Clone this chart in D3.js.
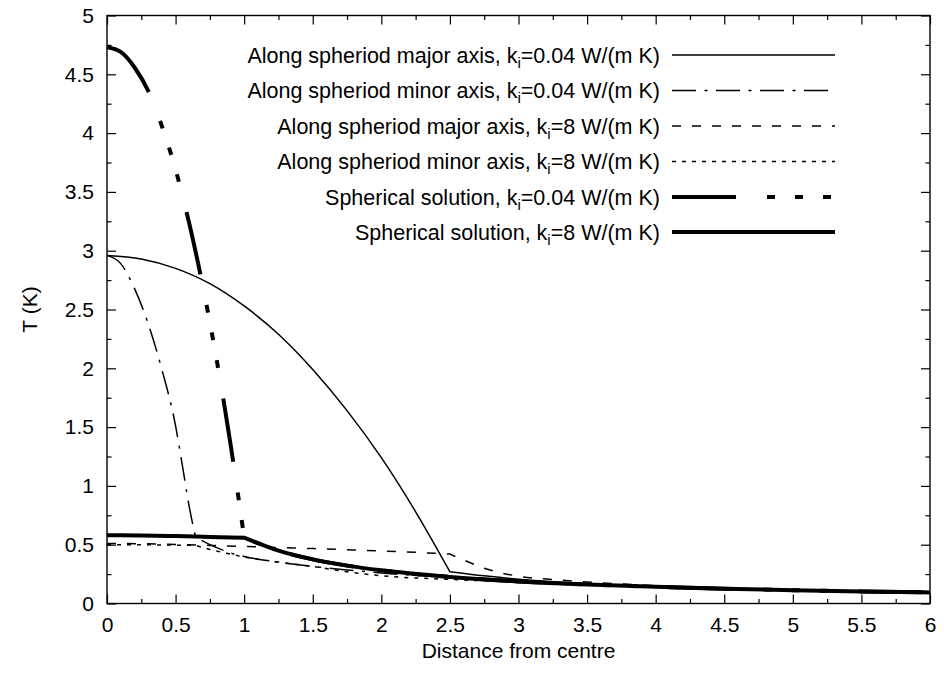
<!DOCTYPE html>
<html>
<head>
<meta charset="utf-8">
<script src="https://cdnjs.cloudflare.com/ajax/libs/d3/7.8.5/d3.min.js"></script>
<style>
  body { margin: 0; background: #fff; }
  text { font-family: "Liberation Sans", Arial, sans-serif; fill: #000; }
</style>
</head>
<body>
<div id="chart"></div>
<script>
// distances
var rSphIn = [0, 0.1, 0.2, 0.3, 0.4, 0.5, 0.6, 0.7, 0.8, 0.9, 1];
var rSphOut = [1, 1.25, 1.5, 1.75, 2, 2.5, 3, 3.5, 4, 4.5, 5, 5.5, 6];
var rMajorIn = [0, 0.25, 0.5, 0.75, 1, 1.25, 1.5, 1.75, 2, 2.25, 2.5];
var rMajorOut = [2.5, 2.75, 3, 3.5, 4, 4.5, 5, 5.5, 6];
var rMajorOut8 = [2.5, 2.6, 2.75, 3, 3.25, 3.5, 4, 4.5, 5, 5.5, 6];
var rMinorIn = [0, 0.1, 0.2, 0.3, 0.4, 0.5, 0.55, 0.6, 0.645];
var rMinorOut = [0.645, 0.7, 0.8, 0.9, 1, 1.25, 1.5, 1.75, 2, 2.5, 3, 3.5, 4, 4.5, 5, 5.5, 6];
var rMinorIn8 = [0, 0.2, 0.4, 0.645];
var rMinorOut8 = [0.645, 0.75, 0.9, 1, 1.25, 1.5, 1.75, 2, 2.5, 3, 3.5, 4, 4.5, 5, 5.5, 6];
var rSphIn8 = [0, 0.25, 0.5, 0.75, 1];

// temperatures (K)
var tMajor004In = [2.96, 2.93, 2.85, 2.72, 2.53, 2.29, 1.99, 1.64, 1.24, 0.78, 0.27];
var tMajor004Out = [0.27, 0.235, 0.207, 0.17, 0.145, 0.127, 0.113, 0.103, 0.094];
var tMinor004In = [2.96, 2.89, 2.68, 2.38, 1.99, 1.51, 1.17, 0.82, 0.57];
var tMinor004Out = [0.57, 0.53, 0.475, 0.43, 0.40, 0.35, 0.315, 0.285, 0.26, 0.22, 0.19, 0.165, 0.145, 0.128, 0.114, 0.104, 0.095];
var tMajor8In = [0.51, 0.508, 0.502, 0.494, 0.485, 0.476, 0.467, 0.457, 0.447, 0.435, 0.42];
var tMajor8Out = [0.42, 0.37, 0.30, 0.232, 0.204, 0.183, 0.152, 0.131, 0.116, 0.104, 0.095];
var tMinor8In = [0.50, 0.50, 0.498, 0.494];
var tMinor8Out = [0.494, 0.46, 0.42, 0.395, 0.353, 0.315, 0.27, 0.236, 0.205, 0.182, 0.16, 0.141, 0.125, 0.112, 0.102, 0.093];
var tSph004In = [4.73, 4.69, 4.56, 4.36, 4.06, 3.69, 3.23, 2.69, 2.07, 1.36, 0.56];
var tSph8In = [0.58, 0.578, 0.573, 0.566, 0.56];
var tSphOut = [0.56, 0.45, 0.375, 0.322, 0.282, 0.226, 0.188, 0.162, 0.142, 0.126, 0.113, 0.103, 0.094];

var xTicks = [0, 0.5, 1, 1.5, 2, 2.5, 3, 3.5, 4, 4.5, 5, 5.5, 6];
var yTicks = [0, 0.5, 1, 1.5, 2, 2.5, 3, 3.5, 4, 4.5, 5];

var legendLabels = [
  ["Along spheriod major axis, k", "=0.04 W/(m K)"],
  ["Along spheriod minor axis, k", "=0.04 W/(m K)"],
  ["Along spheriod major axis, k", "=8 W/(m K)"],
  ["Along spheriod minor axis, k", "=8 W/(m K)"],
  ["Spherical solution, k", "=0.04 W/(m K)"],
  ["Spherical solution, k", "=8 W/(m K)"]
];

var svgWidth = 944;
var svgHeight = 674;
var margin = { top: 15.5, right: 14, bottom: 70.5, left: 107 };
var width = svgWidth - margin.left - margin.right;
var height = svgHeight - margin.top - margin.bottom;

var svg = d3.select("#chart").append("svg")
  .attr("width", svgWidth)
  .attr("height", svgHeight);

var chartGroup = svg.append("g")
  .attr("transform", `translate(${margin.left},${margin.top})`);

var xScale = d3.scaleLinear().domain([0, 6]).range([0, width]);
var yScale = d3.scaleLinear().domain([0, 5]).range([height, 0]);

function pairs(xs, ys) {
  return xs.map((x, i) => [x, ys[i]]);
}

var line = d3.line()
  .x(d => xScale(d[0]))
  .y(d => yScale(d[1]))
  .curve(d3.curveMonotoneX);

// inner and outer part in one subpath so the kink stays sharp and dashes run on
function kinked(inner, outer) {
  return line(inner) + line(outer).replace(/^M/, "L");
}

var series = [
  { d: kinked(pairs(rMajorIn, tMajor004In), pairs(rMajorOut, tMajor004Out)), w: 1.5, dash: null },
  { d: kinked(pairs(rMinorIn, tMinor004In), pairs(rMinorOut, tMinor004Out)), w: 1.5, dash: "24,8.5,3,8.5" },
  { d: kinked(pairs(rMajorIn, tMajor8In), pairs(rMajorOut8, tMajor8Out)), w: 1.5, dash: "9,11" },
  { d: kinked(pairs(rMinorIn8, tMinor8In), pairs(rMinorOut8, tMinor8Out)), w: 1.5, dash: "4,6" },
  { d: kinked(pairs(rSphIn, tSph004In), pairs(rSphOut, tSphOut)), w: 4, dash: "64,31,8,20,8,20,8,31" },
  { d: kinked(pairs(rSphIn8, tSph8In), pairs(rSphOut, tSphOut)), w: 4, dash: null }
];

// axes: inward ticks on all four sides
var xMajor = d3.axisBottom(xScale).tickValues(xTicks).tickSize(-9).tickPadding(14).tickFormat(d3.format("~g"));
var xMinor = d3.axisBottom(xScale).tickValues(d3.range(0.25, 6, 0.5)).tickSize(-4.5).tickFormat("");
var yMajor = d3.axisLeft(yScale).tickValues(yTicks).tickSize(-9).tickPadding(13).tickFormat(d3.format("~g"));
var yMinor = d3.axisLeft(yScale).tickValues(d3.range(0.25, 5, 0.5)).tickSize(-4.5).tickFormat("");

chartGroup.append("g").attr("transform", `translate(0,${height})`).call(xMajor);
chartGroup.append("g").attr("transform", `translate(0,${height})`).call(xMinor);
chartGroup.append("g").call(d3.axisTop(xScale).tickValues(xTicks).tickSize(-9).tickFormat(""));
chartGroup.append("g").call(d3.axisTop(xScale).tickValues(d3.range(0.25, 6, 0.5)).tickSize(-4.5).tickFormat(""));
chartGroup.append("g").call(yMajor);
chartGroup.append("g").call(yMinor);
chartGroup.append("g").attr("transform", `translate(${width},0)`)
  .call(d3.axisRight(yScale).tickValues(yTicks).tickSize(-9).tickFormat(""));
chartGroup.append("g").attr("transform", `translate(${width},0)`)
  .call(d3.axisRight(yScale).tickValues(d3.range(0.25, 5, 0.5)).tickSize(-4.5).tickFormat(""));

chartGroup.selectAll(".domain").remove();
chartGroup.selectAll(".tick line").attr("stroke", "#000").attr("stroke-width", 1.2);
chartGroup.selectAll(".tick text")
  .style("font-family", "'Liberation Sans', Arial, sans-serif")
  .style("font-size", "21px")
  .attr("fill", "#000");

chartGroup.append("rect")
  .attr("width", width)
  .attr("height", height)
  .attr("fill", "none")
  .attr("stroke", "#000")
  .attr("stroke-width", 1.4);

// curves
chartGroup.selectAll(".curve")
  .data(series)
  .enter()
  .append("path")
  .attr("class", "curve")
  .attr("d", s => s.d)
  .attr("fill", "none")
  .attr("stroke", "#000")
  .attr("stroke-width", s => s.w)
  .attr("stroke-dasharray", s => s.dash);

// legend
var legendY = [55, 90.5, 126, 161.5, 197, 232];
var legend = svg.append("g");

legendLabels.forEach((lab, i) => {
  var y = legendY[i];
  var t = legend.append("text")
    .attr("x", 660)
    .attr("y", y + 7.5)
    .attr("text-anchor", "end")
    .style("font-size", "21.5px");
  t.append("tspan").text(lab[0]);
  t.append("tspan").attr("dy", 5).style("font-size", "15px").text("i");
  t.append("tspan").attr("dy", -5).text(lab[1]);

  legend.append("line")
    .attr("x1", 672)
    .attr("x2", 835)
    .attr("y1", y)
    .attr("y2", y)
    .attr("stroke", "#000")
    .attr("stroke-width", series[i].w)
    .attr("stroke-dasharray", series[i].dash);
});

// axis titles
svg.append("text")
  .attr("x", margin.left + width / 2)
  .attr("y", 658)
  .attr("text-anchor", "middle")
  .style("font-size", "21px")
  .text("Distance from centre");

svg.append("text")
  .attr("transform", `translate(37,${margin.top + height / 2}) rotate(-90)`)
  .attr("text-anchor", "middle")
  .style("font-size", "21px")
  .text("T (K)");
</script>
</body>
</html>
